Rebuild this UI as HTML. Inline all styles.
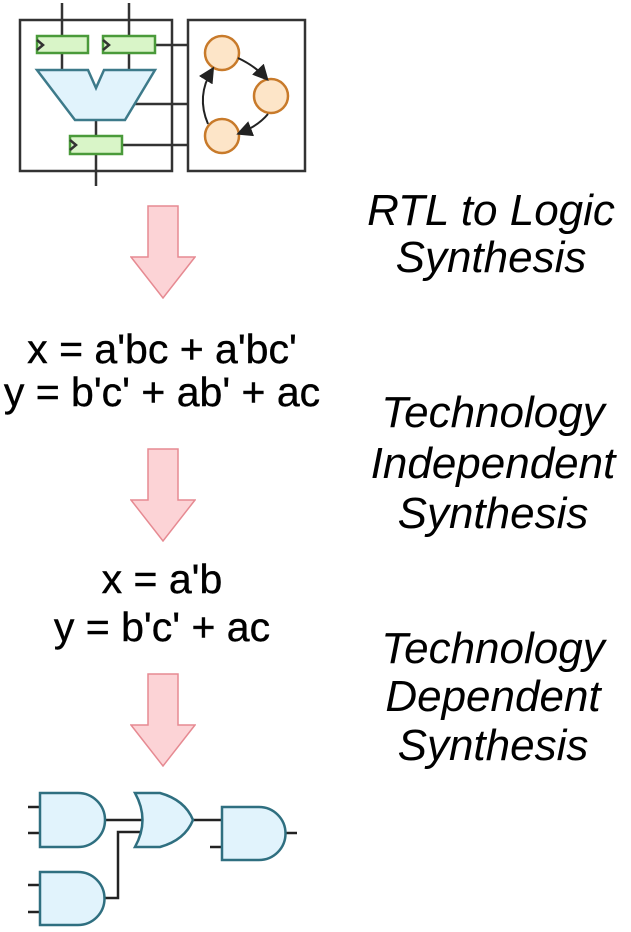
<!DOCTYPE html>
<html><head><meta charset="utf-8"><style>
body{margin:0;background:#fff;width:631px;height:927px;overflow:hidden}
svg text{font-family:"Liberation Sans",sans-serif;fill:#000}
.it{font-style:italic;font-size:44px}
.eq{font-size:41px;stroke:#000;stroke-width:0.4}
</style></head><body>
<svg width="631" height="927" viewBox="0 0 631 927">
<defs>
<marker id="ah" markerWidth="8" markerHeight="8" refX="6" refY="4" orient="auto"><path d="M0,0 L8,4 L0,8 Z" fill="#222"/></marker>
<symbol id="arrow" viewBox="0 0 66 94"><path d="M18,1 H48 V52 H65 L33,93 L1,52 H18 Z" fill="#fcd3d6" stroke="#e68a92" stroke-width="1.5"/></symbol>
</defs>
<g stroke="#333" stroke-width="2.5" fill="none">
<line x1="62" y1="3" x2="62" y2="70"/><line x1="129" y1="3" x2="129" y2="70"/>
<line x1="96" y1="118" x2="96" y2="186"/>
<rect x="20" y="20" width="152" height="151"/>
<rect x="188" y="20" width="117" height="151"/>
<line x1="155" y1="45" x2="188" y2="45"/><line x1="133" y1="104" x2="188" y2="104"/><line x1="122" y1="145" x2="188" y2="145"/>
<g stroke="#4a9a3a" fill="#d9f5c8">
<rect x="37" y="36" width="51" height="17"/>
<rect x="103" y="36" width="52" height="17"/>
<rect x="70" y="136" width="52" height="18"/>
</g>
<path d="M37,40 L43,45 L37,50 M103,40 L109,45 L103,50 M70,140 L76,145 L70,150" stroke="#333"/>
<path d="M37,70 H88 L96,88 L104,70 H155 L125,120 H75 Z" fill="#e1f3fc" stroke="#3d7a8a"/>
<g fill="#fde5c8" stroke="#c87a2a">
<circle cx="222" cy="53" r="17"/>
<circle cx="271" cy="96" r="17"/>
<circle cx="222" cy="136" r="17"/>
</g>
<path d="M238,58 Q255,66 266,78" stroke="#222" stroke-width="2" marker-end="url(#ah)"/>
<path d="M268,114 Q258,126 240,133" stroke="#222" stroke-width="2" marker-end="url(#ah)"/>
<path d="M208,124 Q196,96 212,70" stroke="#222" stroke-width="2" marker-end="url(#ah)"/>
</g>
<use href="#arrow" x="130" y="205" width="66" height="94"/>
<use href="#arrow" x="130" y="448" width="66" height="94"/>
<use href="#arrow" x="130" y="673" width="66" height="94"/>
<g class="it" text-anchor="middle">
<text x="491" y="225">RTL to Logic</text>
<text x="491" y="272">Synthesis</text>
<text x="493" y="427">Technology</text>
<text x="493" y="478">Independent</text>
<text x="493" y="528">Synthesis</text>
<text x="493" y="663">Technology</text>
<text x="493" y="711">Dependent</text>
<text x="493" y="760">Synthesis</text>
</g>
<g class="eq" text-anchor="middle">
<text x="162" y="363">x = a'bc + a'bc'</text>
<text x="162" y="406">y = b'c' + ab' + ac</text>
<text x="162" y="593">x = a'b</text>
<text x="162" y="641">y = b'c' + ac</text>
</g>
<g stroke="#222" stroke-width="2.5" fill="none">
<path d="M28,807H40M28,833H40M28,885H40M28,912H40M210,847H222M286,833H297"/>
<path d="M105,820H145M105,898H118V832H145M193,820H222"/>
<g fill="#e1f3fc" stroke="#2f6f80" stroke-width="2.5">
<path d="M40,793H78A27,27 0 0 1 78,847H40Z"/>
<path d="M40,872H78A26.5,26.5 0 0 1 78,925H40Z"/>
<path d="M135,793H160Q185,800 193,820Q185,840 160,847H135Q150,820 135,793Z"/>
<path d="M222,807H259A26.5,26.5 0 0 1 259,860H222Z"/>
</g>
</g>
</svg>
</body></html>
